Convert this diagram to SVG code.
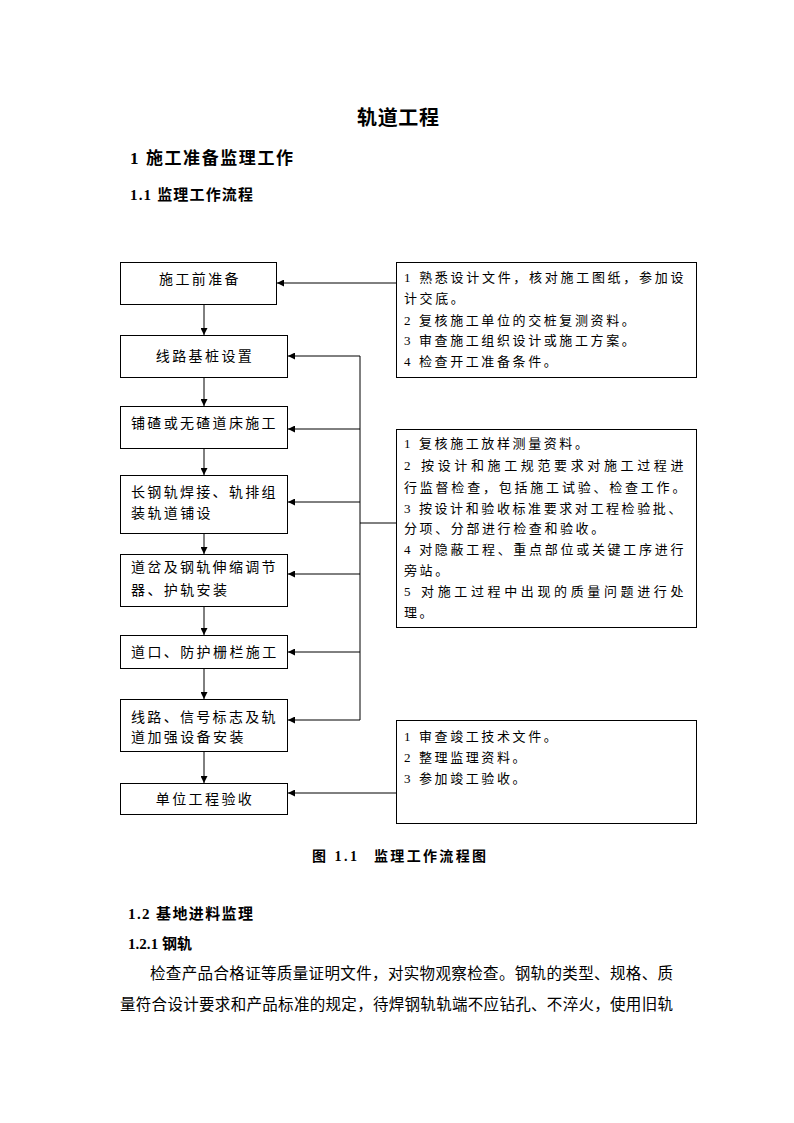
<svg xmlns="http://www.w3.org/2000/svg" width="794" height="1123" viewBox="0 0 794 1123">
<style>
.bg{fill:#fff}
.box{fill:#fff;stroke:#000;stroke-width:1}
.ln{fill:none;stroke:#000;stroke-width:1}
.t{font-family:"Liberation Serif","Noto Sans CJK SC",serif;font-size:14px;fill:#000;letter-spacing:2.4px}
.n{font-family:"Liberation Serif","Noto Sans CJK SC",serif;font-size:13px;fill:#000;letter-spacing:2.6px}
.h{font-family:"Liberation Serif","Noto Sans CJK SC",serif;font-weight:bold;fill:#000}
.p{font-family:"Liberation Serif","Noto Sans CJK SC",serif;font-size:15.5px;fill:#000}
</style>
<defs>
<marker id="ar" viewBox="0 0 10 10" refX="10" refY="5" markerWidth="7" markerHeight="7" markerUnits="userSpaceOnUse" orient="auto">
<path d="M0,0 L10,5 L0,10 Z" fill="#000"/>
</marker>
</defs>
<rect class="bg" x="0" y="0" width="794" height="1123"/>

<text class="h" x="357" y="125" font-size="20" textLength="82">轨道工程</text>
<text class="h" x="130" y="164" font-size="17" textLength="163">1 施工准备监理工作</text>
<text class="h" x="130" y="200" font-size="15" textLength="123">1.1 监理工作流程</text>

<g id="connectors">
<line class="ln" x1="204" y1="304" x2="204" y2="335" marker-end="url(#ar)"/>
<line class="ln" x1="204" y1="377" x2="204" y2="406" marker-end="url(#ar)"/>
<line class="ln" x1="204" y1="448" x2="204" y2="475" marker-end="url(#ar)"/>
<line class="ln" x1="204" y1="533" x2="204" y2="554" marker-end="url(#ar)"/>
<line class="ln" x1="204" y1="606" x2="204" y2="635" marker-end="url(#ar)"/>
<line class="ln" x1="204" y1="668" x2="204" y2="699" marker-end="url(#ar)"/>
<line class="ln" x1="204" y1="751" x2="204" y2="783" marker-end="url(#ar)"/>
<line class="ln" x1="396" y1="283" x2="277" y2="283" marker-end="url(#ar)"/>
<line class="ln" x1="360" y1="356" x2="360" y2="720"/>
<line class="ln" x1="396" y1="523" x2="360" y2="523"/>
<line class="ln" x1="360" y1="356" x2="288" y2="356" marker-end="url(#ar)"/>
<line class="ln" x1="360" y1="429" x2="288" y2="429" marker-end="url(#ar)"/>
<line class="ln" x1="360" y1="502" x2="288" y2="502" marker-end="url(#ar)"/>
<line class="ln" x1="360" y1="574" x2="288" y2="574" marker-end="url(#ar)"/>
<line class="ln" x1="360" y1="652" x2="288" y2="652" marker-end="url(#ar)"/>
<line class="ln" x1="360" y1="720" x2="288" y2="720" marker-end="url(#ar)"/>
<line class="ln" x1="396" y1="793" x2="288" y2="793" marker-end="url(#ar)"/>
</g>

<g id="n1"><rect class="box" x="120.5" y="262.5" width="156" height="42"/>
<text class="t" x="200" y="284" text-anchor="middle">施工前准备</text></g>
<g id="n2"><rect class="box" x="120.5" y="335.5" width="167" height="42"/>
<text class="t" x="205" y="361" text-anchor="middle">线路基桩设置</text></g>
<g id="n3"><rect class="box" x="120.5" y="406.5" width="167" height="42"/>
<text class="t" x="131" y="428" textLength="147">铺碴或无碴道床施工</text></g>
<g id="n4"><rect class="box" x="120.5" y="475.5" width="167" height="58"/>
<text class="t" x="131" y="497" textLength="147">长钢轨焊接、轨排组</text>
<text class="t" x="131" y="518">装轨道铺设</text></g>
<g id="n5"><rect class="box" x="120.5" y="554.5" width="167" height="52"/>
<text class="t" x="131" y="572" textLength="147">道岔及钢轨伸缩调节</text>
<text class="t" x="131" y="595">器、护轨安装</text></g>
<g id="n6"><rect class="box" x="120.5" y="635.5" width="167" height="33"/>
<text class="t" x="131" y="657">道口、防护栅栏施工</text></g>
<g id="n7"><rect class="box" x="120.5" y="699.5" width="167" height="52"/>
<text class="t" x="131" y="722" textLength="147">线路、信号标志及轨</text>
<text class="t" x="131" y="742">道加强设备安装</text></g>
<g id="n8"><rect class="box" x="120.5" y="783.5" width="167" height="31"/>
<text class="t" x="205" y="804" text-anchor="middle">单位工程验收</text></g>

<g id="r1"><rect class="box" x="396.5" y="262.5" width="300" height="115"/>
<text class="n" x="404" y="282" textLength="282">1 熟悉设计文件，核对施工图纸，参加设</text>
<text class="n" x="404" y="303">计交底。</text>
<text class="n" x="404" y="325">2 复核施工单位的交桩复测资料。</text>
<text class="n" x="404" y="345">3 审查施工组织设计或施工方案。</text>
<text class="n" x="404" y="366">4 检查开工准备条件。</text></g>

<g id="r2"><rect class="box" x="396.5" y="429.5" width="300" height="198"/>
<text class="n" x="404" y="448">1 复核施工放样测量资料。</text>
<text class="n" x="404" y="470" textLength="282">2 按设计和施工规范要求对施工过程进</text>
<text class="n" x="404" y="492" textLength="284">行监督检查，包括施工试验、检查工作。</text>
<text class="n" x="404" y="513" textLength="280">3 按设计和验收标准要求对工程检验批、</text>
<text class="n" x="404" y="533">分项、分部进行检查和验收。</text>
<text class="n" x="404" y="554" textLength="282">4 对隐蔽工程、重点部位或关键工序进行</text>
<text class="n" x="404" y="575">旁站。</text>
<text class="n" x="404" y="596" textLength="282">5 对施工过程中出现的质量问题进行处</text>
<text class="n" x="404" y="617">理。</text></g>

<g id="r3"><rect class="box" x="396.5" y="720.5" width="300" height="103"/>
<text class="n" x="404" y="741">1 审查竣工技术文件。</text>
<text class="n" x="404" y="762">2 整理监理资料。</text>
<text class="n" x="404" y="783">3 参加竣工验收。</text></g>

<text class="h" y="861" font-size="14"><tspan x="312" textLength="45">图 1.1</tspan><tspan x="374" textLength="112">监理工作流程图</tspan></text>
<text class="h" x="128" y="919" font-size="15" textLength="125">1.2 基地进料监理</text>
<text class="h" x="128" y="949" font-size="15" textLength="64">1.2.1 钢轨</text>
<text class="p" x="150" y="979" textLength="523">检查产品合格证等质量证明文件，对实物观察检查。钢轨的类型、规格、质</text>
<text class="p" x="120" y="1010" textLength="553">量符合设计要求和产品标准的规定，待焊钢轨轨端不应钻孔、不淬火，使用旧轨</text>
</svg>
